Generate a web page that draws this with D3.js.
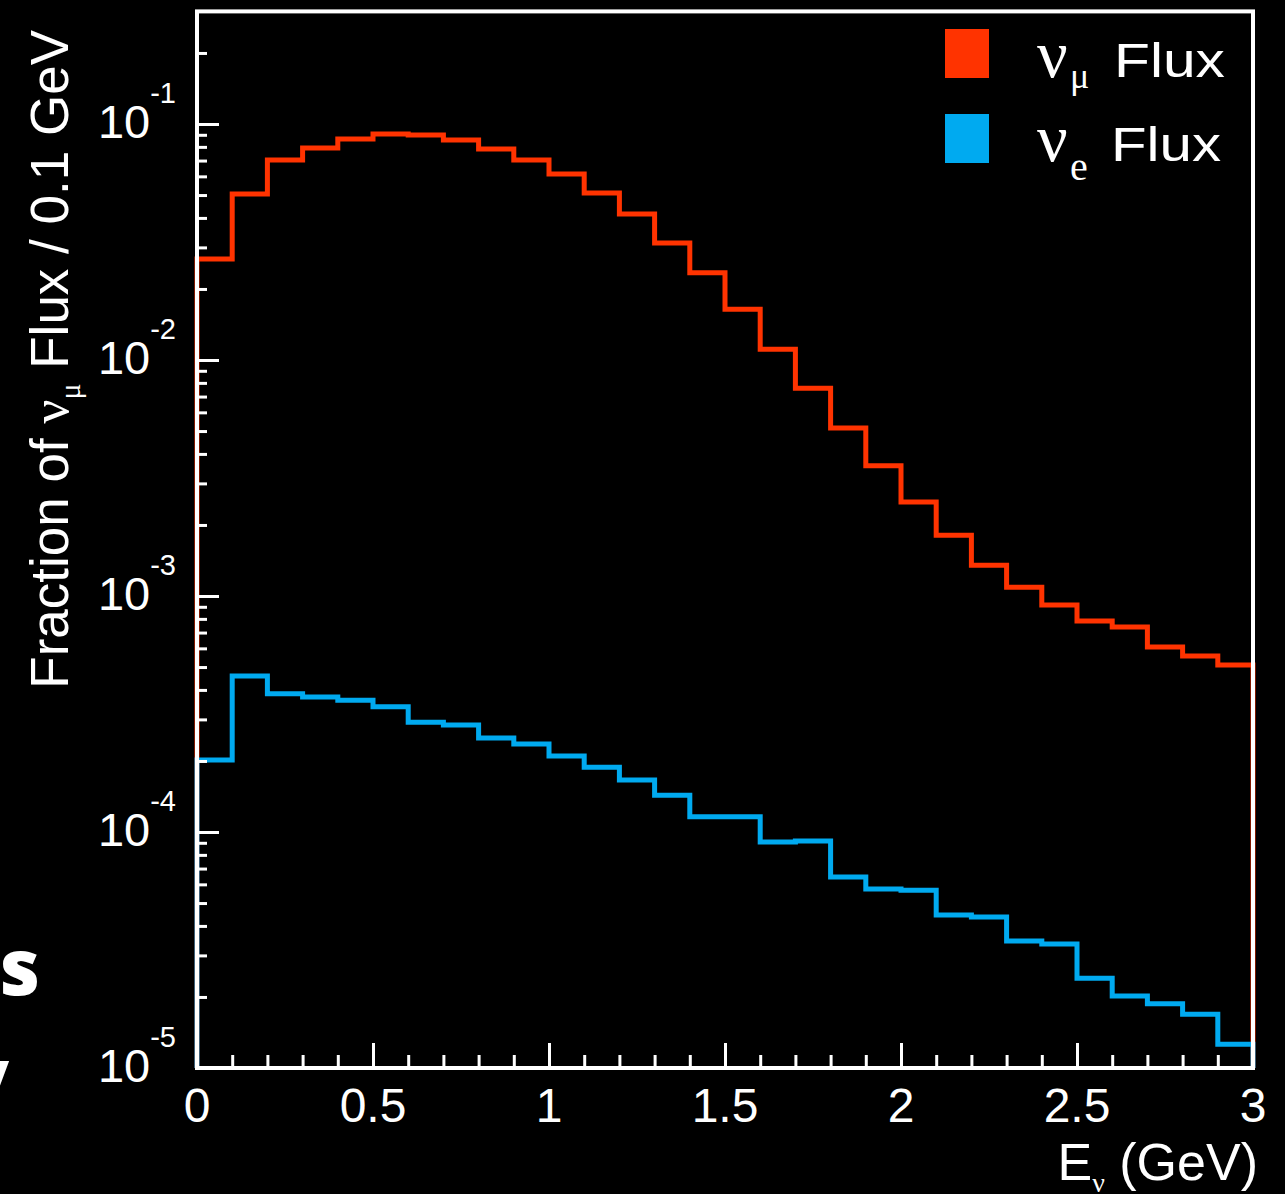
<!DOCTYPE html>
<html>
<head>
<meta charset="utf-8">
<script src="https://cdn.jsdelivr.net/npm/d3@7"></script>
<style>
  html, body { margin: 0; padding: 0; background: #000; }
  svg { display: block; }
</style>
</head>
<body>
<script>

// energy bin edges (GeV), 0.1 GeV wide
const binEdges = [0, 0.1, 0.2, 0.3, 0.4, 0.5, 0.6, 0.7, 0.8, 0.9,
                  1.0, 1.1, 1.2, 1.3, 1.4, 1.5, 1.6, 1.7, 1.8, 1.9,
                  2.0, 2.1, 2.2, 2.3, 2.4, 2.5, 2.6, 2.7, 2.8, 2.9, 3.0];

// fraction of nu_mu flux per bin
const numuFlux = [0.0268, 0.0505, 0.0703, 0.0791, 0.0863, 0.0907, 0.0898, 0.0855, 0.0783, 0.0703,
                  0.0614, 0.0510, 0.0416, 0.0313, 0.0234, 0.0164, 0.0111, 0.0076, 0.00515, 0.00356,
                  0.0025, 0.00181, 0.00135, 0.00109, 0.000916, 0.000783, 0.000739, 0.000608, 0.000557, 0.00051];

const nueFlux = [2.02e-4, 4.58e-4, 3.85e-4, 3.73e-4, 3.62e-4, 3.39e-4, 2.92e-4, 2.84e-4, 2.50e-4, 2.36e-4,
                 2.10e-4, 1.88e-4, 1.66e-4, 1.43e-4, 1.16e-4, 1.16e-4, 9.08e-5, 9.16e-5, 6.44e-5, 5.73e-5,
                 5.67e-5, 4.45e-5, 4.36e-5, 3.45e-5, 3.35e-5, 2.40e-5, 2.02e-5, 1.87e-5, 1.69e-5, 1.26e-5];

const xMajorTicks = [0, 0.5, 1, 1.5, 2, 2.5, 3];
const xTickLabels = ['0', '0.5', '1', '1.5', '2', '2.5', '3'];
const yMajorTicks = [1e-1, 1e-2, 1e-3, 1e-4, 1e-5];
const yTickExponents = ['-1', '-2', '-3', '-4', '-5'];

const seriesNames = ['\u03bd', '\u03bd'];
const seriesSubs = ['\u03bc', 'e'];
const seriesColors = ['#ff3300', '#00aaf0'];

const width = 1285;
const height = 1194;
const plotLeft = 197, plotRight = 1253, plotTop = 11.4, plotBottom = 1068;
const sans = 'Liberation Sans, Arial, sans-serif';
const serif = 'Liberation Serif, Times New Roman, serif';

const svg = d3.select('body')
    .append('svg')
    .attr('width', width)
    .attr('height', height)
    .style('background', '#000');

const xScale = d3.scaleLinear()
    .domain([0, 3])
    .range([plotLeft, plotRight]);

const yScale = d3.scaleLog()
    .domain([1e-5, 0.3])
    .range([plotBottom, plotTop]);

// fragments of slide text cut off at the left edge
svg.append('text')
    .attr('x', 40)
    .attr('y', 995)
    .attr('text-anchor', 'end')
    .attr('fill', '#fff')
    .style('font-family', 'Open Sans, sans-serif')
    .style('font-weight', 800)
    .style('font-size', '78px')
    .text('s');

svg.append('text')
    .attr('x', 9)
    .attr('y', 1104)
    .attr('text-anchor', 'end')
    .attr('fill', '#fff')
    .style('font-family', 'Open Sans, sans-serif')
    .style('font-weight', 800)
    .style('font-size', '78px')
    .text('y');

// histograms
const step = d3.line()
    .x((d) => xScale(d[0]))
    .y((d) => yScale(d[1]))
    .curve(d3.curveStepAfter);

function histPoints(values) {
    const pts = [[binEdges[0], 1e-5]];
    values.forEach((v, i) => pts.push([binEdges[i], v]));
    pts.push([binEdges[binEdges.length - 1], values[values.length - 1]]);
    pts.push([binEdges[binEdges.length - 1], 1e-5]);
    return pts;
}

[numuFlux, nueFlux].forEach((vals, i) => {
    svg.append('path')
        .attr('d', step(histPoints(vals)))
        .attr('fill', 'none')
        .attr('stroke', seriesColors[i])
        .attr('stroke-width', 5)
        .attr('stroke-linejoin', 'miter');
});

// frame
svg.append('rect')
    .attr('x', plotLeft)
    .attr('y', plotTop)
    .attr('width', plotRight - plotLeft)
    .attr('height', plotBottom - plotTop)
    .attr('fill', 'none')
    .attr('stroke', '#fff')
    .attr('stroke-width', 4);

// x axis ticks
const xMinor = binEdges.filter((e) => xMajorTicks.indexOf(e) < 0 && e > 0 && e < 3);

const xAxisMajor = d3.axisBottom(xScale)
    .tickValues(xMajorTicks.slice(1, -1))
    .tickSizeInner(-25)
    .tickSizeOuter(0)
    .tickFormat('');

const xAxisMinor = d3.axisBottom(xScale)
    .tickValues(xMinor)
    .tickSizeInner(-13)
    .tickSizeOuter(0)
    .tickFormat('');

[xAxisMajor, xAxisMinor].forEach((ax) => {
    svg.append('g')
        .attr('transform', 'translate(0,' + plotBottom + ')')
        .call(ax)
        .call((g) => g.select('.domain').remove())
        .call((g) => g.selectAll('line').attr('stroke', '#fff').attr('stroke-width', 3));
});

svg.append('g')
    .selectAll('text')
    .data(xMajorTicks)
    .enter()
    .append('text')
    .attr('x', (d) => xScale(d))
    .attr('y', 1122)
    .attr('text-anchor', 'middle')
    .attr('fill', '#fff')
    .style('font-family', sans)
    .style('font-size', '48px')
    .text((d, i) => xTickLabels[i]);

// y axis ticks
const yMinor = [];
[1e-5, 1e-4, 1e-3, 1e-2, 1e-1].forEach((dec) => {
    [2, 3, 4, 5, 6, 7, 8, 9].forEach((m) => {
        const v = m * dec;
        if (v < 0.3) yMinor.push(v);
    });
});

const yAxisMajor = d3.axisLeft(yScale)
    .tickValues(yMajorTicks.slice(0, -1))
    .tickSizeInner(-22)
    .tickSizeOuter(0)
    .tickFormat('');

const yAxisMinor = d3.axisLeft(yScale)
    .tickValues(yMinor)
    .tickSizeInner(-10)
    .tickSizeOuter(0)
    .tickFormat('');

[yAxisMajor, yAxisMinor].forEach((ax) => {
    svg.append('g')
        .attr('transform', 'translate(' + plotLeft + ',0)')
        .call(ax)
        .call((g) => g.select('.domain').remove())
        .call((g) => g.selectAll('line').attr('stroke', '#fff').attr('stroke-width', 3));
});

const yLabels = svg.append('g')
    .selectAll('text')
    .data(yMajorTicks)
    .enter()
    .append('text')
    .attr('x', 176)
    .attr('y', (d) => yScale(d) + 14)
    .attr('text-anchor', 'end')
    .attr('fill', '#fff')
    .style('font-family', sans)
    .style('font-size', '47px');

yLabels.append('tspan').text('10');
yLabels.append('tspan')
    .attr('dy', -35)
    .style('font-size', '29px')
    .text((d, i) => yTickExponents[i]);

// axis titles
const xTitle = svg.append('text')
    .attr('x', 1258)
    .attr('y', 1180)
    .attr('text-anchor', 'end')
    .attr('fill', '#fff')
    .style('font-family', sans)
    .style('font-size', '52px');
xTitle.append('tspan').text('E');
xTitle.append('tspan')
    .attr('dy', 12)
    .style('font-family', serif)
    .style('font-size', '28px')
    .text('\u03bd');
xTitle.append('tspan')
    .attr('dy', -12)
    .text(' (GeV)');

const yTitle = svg.append('text')
    .attr('transform', 'translate(68,30) rotate(-90)')
    .attr('text-anchor', 'end')
    .attr('fill', '#fff')
    .style('font-family', sans)
    .style('font-size', '53px');
yTitle.append('tspan').text('Fraction of ');
yTitle.append('tspan')
    .style('font-family', serif)
    .text('\u03bd');
yTitle.append('tspan')
    .attr('dy', 12)
    .style('font-family', serif)
    .style('font-size', '30px')
    .text('\u03bc');
yTitle.append('tspan')
    .attr('dy', -12)
    .text(' Flux / 0.1 GeV');

// legend
const legend = svg.append('g');
const legendRows = [
    { box: 29, base: 77, subBase: 88, subSize: 36, fluxX: 1114, fluxLen: 111 },
    { box: 114, base: 161, subBase: 180, subSize: 40, fluxX: 1111, fluxLen: 110 }
];
legendRows.forEach((r, i) => {
    legend.append('rect')
        .attr('x', 945)
        .attr('y', r.box)
        .attr('width', 44)
        .attr('height', 49)
        .attr('fill', seriesColors[i]);
    legend.append('text')
        .attr('x', 1037)
        .attr('y', r.base)
        .attr('fill', '#fff')
        .style('font-family', serif)
        .style('font-size', '68px')
        .text(seriesNames[i]);
    legend.append('text')
        .attr('x', 1070)
        .attr('y', r.subBase)
        .attr('fill', '#fff')
        .style('font-family', serif)
        .style('font-size', r.subSize + 'px')
        .text(seriesSubs[i]);
    legend.append('text')
        .attr('x', r.fluxX)
        .attr('y', r.base)
        .attr('fill', '#fff')
        .attr('textLength', r.fluxLen)
        .attr('lengthAdjust', 'spacingAndGlyphs')
        .style('font-family', sans)
        .style('font-size', '48px')
        .text('Flux');
});

</script>
</body>
</html>
